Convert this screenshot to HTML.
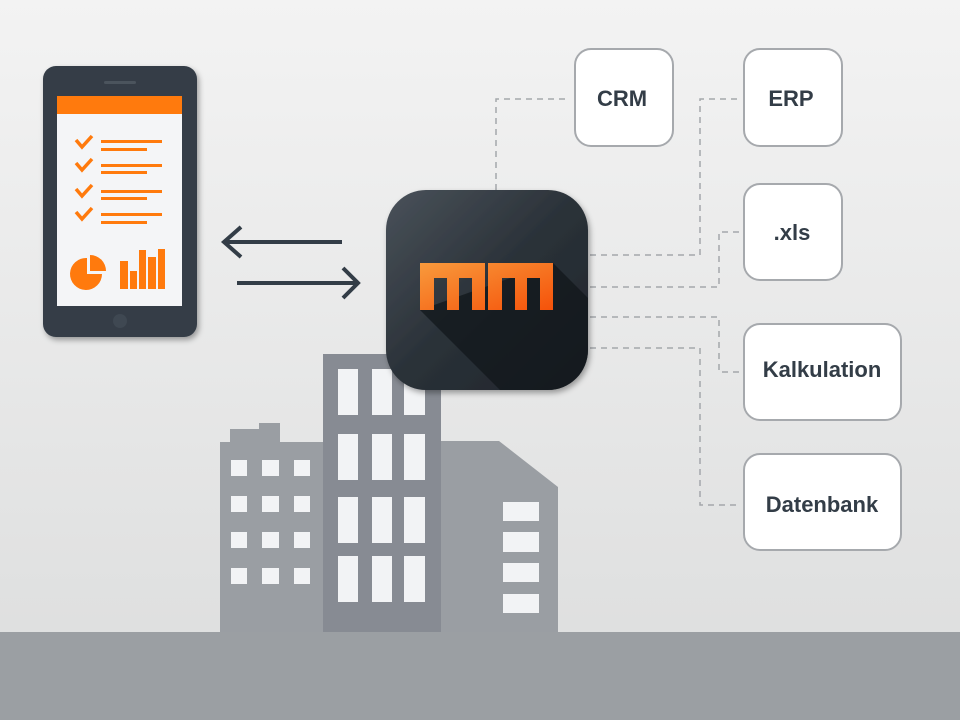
<!DOCTYPE html>
<html><head><meta charset="utf-8"><style>
html,body{margin:0;padding:0;width:960px;height:720px;overflow:hidden}
body{background:linear-gradient(#f3f3f3,#dcdddd);font-family:"Liberation Sans",sans-serif}
</style></head><body>
<svg width="960" height="720" viewBox="0 0 960 720" xmlns="http://www.w3.org/2000/svg" style="position:absolute;left:0;top:0">
<defs>
<linearGradient id="ic" x1="0" y1="0" x2="1" y2="1"><stop offset="0" stop-color="#4a525a"/><stop offset="0.5" stop-color="#2a3138"/><stop offset="1" stop-color="#20262c"/></linearGradient>
<linearGradient id="or" x1="0" y1="0" x2="1" y2="1"><stop offset="0" stop-color="#f89a3c"/><stop offset="1" stop-color="#f5520a"/></linearGradient>
<filter id="sh" x="-20%" y="-20%" width="140%" height="140%"><feDropShadow dx="2" dy="3" stdDeviation="3" flood-opacity="0.35"/></filter>
<clipPath id="icc"><rect x="386" y="190" width="202" height="200" rx="40"/></clipPath>
</defs>
<!-- ground -->
<rect x="0" y="632" width="960" height="88" fill="#9b9fa3"/>
<!-- buildings -->
<polygon points="220,442 230,442 230,429 259,429 259,423 280,423 280,442 323,442 323,632 220,632" fill="#9a9ea3"/>
<polygon points="441,441 499,441 558,487 558,632 441,632" fill="#9a9ea3"/>
<rect x="323" y="354" width="118" height="278" fill="#878b93"/>
<g fill="#f2f3f5">
<rect x="231" y="460" width="16" height="16"/><rect x="262" y="460" width="17" height="16"/><rect x="294" y="460" width="16" height="16"/>
<rect x="231" y="496" width="16" height="16"/><rect x="262" y="496" width="17" height="16"/><rect x="294" y="496" width="16" height="16"/>
<rect x="231" y="532" width="16" height="16"/><rect x="262" y="532" width="17" height="16"/><rect x="294" y="532" width="16" height="16"/>
<rect x="231" y="568" width="16" height="16"/><rect x="262" y="568" width="17" height="16"/><rect x="294" y="568" width="16" height="16"/>
<rect x="338" y="369" width="20" height="46"/><rect x="372" y="369" width="20" height="46"/><rect x="404" y="369" width="21" height="46"/>
<rect x="338" y="434" width="20" height="46"/><rect x="372" y="434" width="20" height="46"/><rect x="404" y="434" width="21" height="46"/>
<rect x="338" y="497" width="20" height="46"/><rect x="372" y="497" width="20" height="46"/><rect x="404" y="497" width="21" height="46"/>
<rect x="338" y="556" width="20" height="46"/><rect x="372" y="556" width="20" height="46"/><rect x="404" y="556" width="21" height="46"/>
<rect x="503" y="502" width="36" height="19"/><rect x="503" y="532" width="36" height="20"/><rect x="503" y="563" width="36" height="19"/><rect x="503" y="594" width="36" height="19"/>
</g>
<!-- connectors -->
<g stroke="#a4a7ab" stroke-width="1.5" stroke-dasharray="6,5" fill="none">
<polyline points="496,190 496,99 568,99"/>
<polyline points="590,255 700,255 700,99 740,99"/>
<polyline points="590,287 719,287 719,232 740,232"/>
<polyline points="590,317 719,317 719,372 740,372"/>
<polyline points="590,348 700,348 700,505 740,505"/>
</g>
<!-- boxes -->
<g fill="#fff" stroke="#a6a9ad" stroke-width="2">
<rect x="575" y="49" width="98" height="97" rx="16"/>
<rect x="744" y="49" width="98" height="97" rx="16"/>
<rect x="744" y="184" width="98" height="96" rx="16"/>
<rect x="744" y="324" width="157" height="96" rx="16"/>
<rect x="744" y="454" width="157" height="96" rx="16"/>
</g>
<g fill="#333d47" font-family="Liberation Sans, sans-serif" font-weight="bold" font-size="22" text-anchor="middle">
<text x="622" y="106">CRM</text>
<text x="791" y="106">ERP</text>
<text x="792" y="240">.xls</text>
<text x="822" y="377">Kalkulation</text>
<text x="822" y="512">Datenbank</text>
</g>
<!-- arrows -->
<g stroke="#333d47" stroke-width="4" fill="none" stroke-linecap="butt">
<line x1="224" y1="242" x2="342" y2="242"/><polyline points="241,227 224,242 241,257"/>
<line x1="237" y1="283" x2="358" y2="283"/><polyline points="343,268 358,283 343,298"/>
</g>
<!-- phone -->
<rect x="43" y="66" width="154" height="271" rx="13" fill="#343d47" filter="url(#sh)"/>
<rect x="104" y="81" width="32" height="3" rx="1.5" fill="#4b545d"/>
<rect x="57" y="96" width="125" height="210" fill="#f4f5f7"/>
<rect x="57" y="96" width="125" height="18" fill="#ff7a0d"/>
<circle cx="120" cy="321" r="7" fill="#3f4852"/>
<g stroke="#ff7a0d" stroke-width="3.5" fill="none">
<polyline points="76,140 82,147 92,136"/><polyline points="76,163 82,170 92,159"/>
<polyline points="76,189 82,196 92,185"/><polyline points="76,212 82,219 92,208"/>
</g>
<g fill="#ff7a0d">
<rect x="101" y="140" width="61" height="3"/><rect x="101" y="148" width="46" height="3"/>
<rect x="101" y="164" width="61" height="3"/><rect x="101" y="171" width="46" height="3"/>
<rect x="101" y="190" width="61" height="3"/><rect x="101" y="197" width="46" height="3"/>
<rect x="101" y="213" width="61" height="3"/><rect x="101" y="221" width="46" height="3"/>
<path d="M87,258 L87,274 L102,274 A16,16 0 1 1 87,258 Z"/>
<path d="M90,255 A16,16 0 0 1 106,271 L90,271 Z"/>
<rect x="120" y="261" width="8" height="28"/><rect x="130" y="271" width="7" height="18"/><rect x="139" y="250" width="7" height="39"/><rect x="148" y="257" width="8" height="32"/><rect x="158" y="249" width="7" height="40"/>
</g>
<!-- icon -->
<rect x="386" y="190" width="202" height="200" rx="40" fill="url(#ic)" filter="url(#sh)"/>
<g clip-path="url(#icc)">
<polygon points="420,310 553,263 620,330 620,400 510,400" fill="#12171b" opacity="0.75"/>
</g>
<path d="M420,263 H485 V310 H472 V278 H459 V310 H447 V278 H434 V310 H420 Z M488,263 H553 V310 H540 V278 H527 V310 H515 V278 H502 V310 H488 Z" fill="url(#or)"/>
</svg>
</body></html>
